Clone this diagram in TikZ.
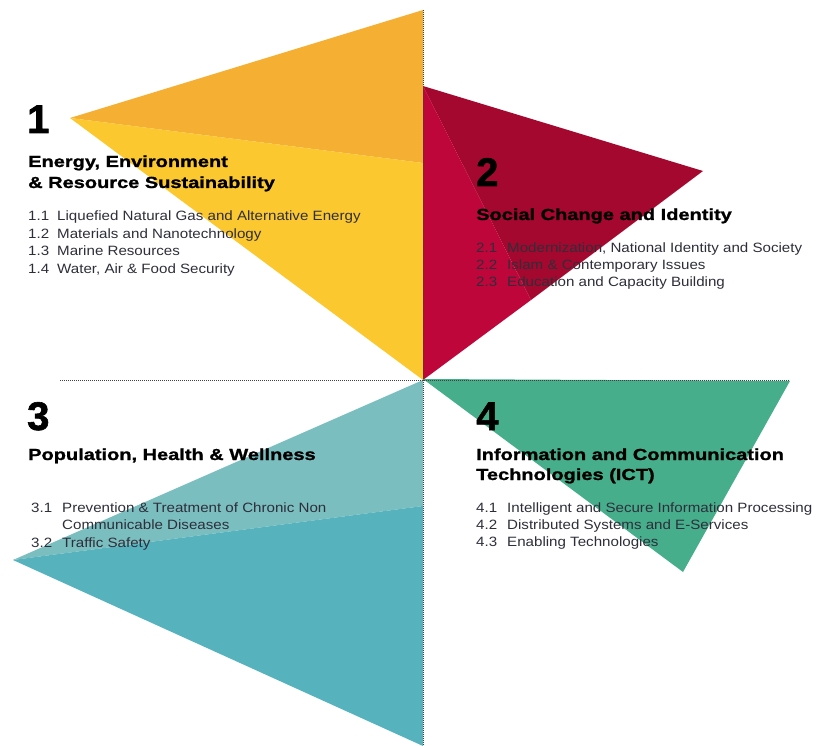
\documentclass[tikz,border=0pt]{standalone}
\usepackage{fontspec}
\setmainfont{Liberation Sans}
\newfontfamily\ttlfont{Liberation Sans}[FakeStretch=1.25, FakeBold=1.2]
\newfontfamily\numfont{Liberation Sans}[FakeBold=1.5]
\newfontfamily\itmfont{Liberation Sans}[FakeStretch=1.12]
\definecolor{cOrange}{HTML}{F5AF32}
\definecolor{cYellow}{HTML}{FBC82F}
\definecolor{cRedD}{HTML}{A5082F}
\definecolor{cRedL}{HTML}{BF063B}
\definecolor{cTealL}{HTML}{7BBEBF}
\definecolor{cTealD}{HTML}{56B3BE}
\definecolor{cGreen}{HTML}{47AE8C}
\definecolor{txtgray}{HTML}{2E2E3A}
\begin{document}
\begin{tikzpicture}[x=1pt,y=-1pt,
  num/.style={anchor=base west, inner sep=0pt, font=\numfont\fontsize{40}{40}\selectfont\bfseries},
  ttl/.style={anchor=base west, inner sep=0pt, font=\ttlfont\fontsize{16}{16}\selectfont\bfseries},
  itm/.style={anchor=base west, inner sep=0pt, font=\itmfont\fontsize{13.5}{13.5}\selectfont, text=txtgray},
  axis/.style={draw=black!75, line width=1pt, densely dotted}]
\useasboundingbox (0,0) rectangle (817,746);
% triangle 1
\fill[cOrange] (70,118) -- (423,10) -- (423,163) -- cycle;
\fill[cYellow] (70,118) -- (423,163) -- (423,380) -- cycle;
% triangle 2
\fill[cRedD] (423,86) -- (703,171) -- (531,300) -- cycle;
\fill[cRedL] (423,86) -- (531,300) -- (423,380) -- cycle;
% triangle 3
\fill[cTealL] (423,380) -- (13,560) -- (423,506) -- cycle;
\fill[cTealD] (13,560) -- (423,506) -- (423,746) -- cycle;
% triangle 4
\fill[cGreen] (423,379) -- (790,381) -- (683,572) -- cycle;
% axes
\coordinate (hL) at (60,380);
\coordinate (hR) at (790,380);
\coordinate (vT) at (423,10);
\coordinate (vB) at (423,746);
\draw[axis] (hL) -- (hR);
\draw[axis] (vT) -- (vB);
% block 1
\node[num] (n1) at (27,133) {1};
\node[ttl] (t1a) at (28,167) {Energy, Environment};
\node[ttl] (t1b) at (28,188) {\& Resource Sustainability};
\node[itm] (i11l) at (28,221) {1.1};
\node[itm] (i11) at (57,221) {Liquefied Natural Gas and Alternative Energy};
\node[itm] (i12l) at (28,239) {1.2};
\node[itm] (i12) at (57,239) {Materials and Nanotechnology};
\node[itm] (i13l) at (28,256) {1.3};
\node[itm] (i13) at (57,256) {Marine Resources};
\node[itm] (i14l) at (28,273) {1.4};
\node[itm] (i14) at (57,273) {Water, Air \& Food Security};
% block 2
\node[num] (n2) at (476,186) {2};
\node[ttl] (t2) at (476,220) {Social Change and Identity};
\node[itm] (i21l) at (476,253) {2.1};
\node[itm] (i21) at (507,253) {Modernization, National Identity and Society};
\node[itm] (i22l) at (476,270) {2.2};
\node[itm] (i22) at (507,270) {Islam \& Contemporary Issues};
\node[itm] (i23l) at (476,287) {2.3};
\node[itm] (i23) at (507,287) {Education and Capacity Building};
% block 3
\node[num] (n3) at (27,430) {3};
\node[ttl] (t3) at (28,460) {Population, Health \& Wellness};
\node[itm] (i31l) at (31,512) {3.1};
\node[itm] (i31) at (62,512) {Prevention \& Treatment of Chronic Non};
\node[itm] (i31b) at (62,529) {Communicable Diseases};
\node[itm] (i32l) at (31,547) {3.2};
\node[itm] (i32) at (62,547) {Traffic Safety};
% block 4
\node[num] (n4) at (476,430) {4};
\node[ttl] (t4a) at (476,460) {Information and Communication};
\node[ttl] (t4b) at (476,480) {Technologies (ICT)};
\node[itm] (i41l) at (476,512) {4.1};
\node[itm] (i41) at (507,512) {Intelligent and Secure Information Processing};
\node[itm] (i42l) at (476,529) {4.2};
\node[itm] (i42) at (507,529) {Distributed Systems and E-Services};
\node[itm] (i43l) at (476,546) {4.3};
\node[itm] (i43) at (507,546) {Enabling Technologies};
\end{tikzpicture}
\end{document}
